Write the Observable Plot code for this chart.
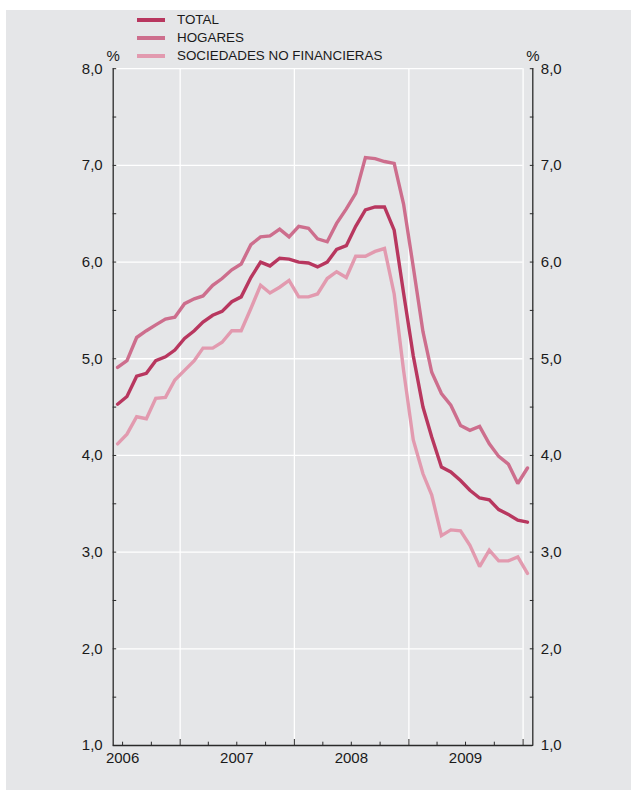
<!DOCTYPE html>
<html>
<head>
<meta charset="utf-8">
<script src="https://cdn.jsdelivr.net/npm/d3@7"></script>
<script src="https://cdn.jsdelivr.net/npm/@observablehq/plot@0.6"></script>
<style>
  html, body { margin: 0; padding: 0; background: #ffffff; }
  body { width: 631px; height: 796px; position: relative; overflow: hidden; font-family: "Liberation Sans", Arial, Helvetica, sans-serif; }
  #bg { position: absolute; left: 6px; top: 10px; width: 625px; height: 780px; background: #e5e6e8; }
  #chart { position: absolute; left: 0; top: 0; }
  .row { position: absolute; left: 137px; height: 18px; display: flex; align-items: center; font-size: 13.4px; color: #1a1a1a; line-height: 18px; white-space: nowrap; }
  .sw { width: 28px; height: 4px; margin-right: 12px; }
</style>
</head>
<body>
<div id="bg"></div>
<div id="chart"></div>
<div id="legend"></div>
<script>
// ---- Data ----
const seriesNames = ["TOTAL", "HOGARES", "SOCIEDADES NO FINANCIERAS"];
const seriesColors = ["#b8375f", "#cd6e8d", "#e29aaf"];
const startMonth = new Date(Date.UTC(2006, 5, 1));   // June 2006
const endMonth = new Date(Date.UTC(2010, 1, 1));     // February 2010 (axis end)
const months = d3.utcMonth.range(startMonth, endMonth); // Jun 2006 .. Jan 2010 (44 months)

const total = [4.53, 4.61, 4.82, 4.85, 4.98, 5.02, 5.09, 5.21, 5.29, 5.38, 5.45, 5.49,
               5.59, 5.64, 5.84, 6.00, 5.96, 6.04, 6.03, 6.00, 5.99, 5.95, 6.00, 6.13,
               6.17, 6.37, 6.54, 6.57, 6.57, 6.33, 5.68, 5.03, 4.50, 4.19, 3.88, 3.83,
               3.74, 3.64, 3.56, 3.54, 3.44, 3.39, 3.33, 3.31];
const hogares = [4.91, 4.98, 5.22, 5.29, 5.35, 5.41, 5.43, 5.57, 5.62, 5.65, 5.76, 5.83,
                 5.92, 5.98, 6.18, 6.26, 6.27, 6.34, 6.26, 6.37, 6.35, 6.24, 6.21, 6.40,
                 6.55, 6.71, 7.08, 7.07, 7.04, 7.02, 6.60, 5.95, 5.28, 4.86, 4.64, 4.52,
                 4.31, 4.26, 4.30, 4.12, 3.99, 3.91, 3.71, 3.87];
const sociedades = [4.12, 4.22, 4.40, 4.38, 4.59, 4.60, 4.78, 4.88, 4.98, 5.11, 5.11, 5.17,
                    5.29, 5.29, 5.52, 5.76, 5.68, 5.74, 5.81, 5.64, 5.64, 5.67, 5.83, 5.90,
                    5.84, 6.06, 6.06, 6.11, 6.14, 5.67, 4.88, 4.16, 3.81, 3.59, 3.17, 3.23,
                    3.22, 3.07, 2.85, 3.02, 2.91, 2.91, 2.95, 2.78];

const yTickLabels = [1, 2, 3, 4, 5, 6, 7, 8];
const yMinorTicks = [1, 1.5, 2, 2.5, 3, 3.5, 4, 4.5, 5, 5.5, 6, 6.5, 7, 7.5, 8];
const yearLabels = [2006, 2007, 2008, 2009];
const yearBoundaries = [2007, 2008, 2009, 2010];

// ---- Build table ----
const seriesValues = [total, hogares, sociedades];
const rows = [];
[2, 1, 0].forEach(s => {
  seriesValues[s].forEach((v, i) => {
    rows.push({series: seriesNames[s], date: d3.utcDay.offset(months[i], 14), value: v});
  });
});

const boundaryDates = yearBoundaries.map(y => new Date(Date.UTC(y, 0, 1)));
const labelDates = yearLabels.map(y => new Date(Date.UTC(y, 6, 1)));
const quarterDates = d3.utcMonth.every(3).range(new Date(Date.UTC(2006, 6, 1)), new Date(Date.UTC(2010, 0, 2)))
  .filter(d => d.getUTCMonth() !== 0);
const fmt = d => d.toFixed(1).replace(".", ",");
const axisColor = "#2a2a2a";
const textColor = "#1a1a1a";

const chart = Plot.plot({
  width: 631,
  height: 796,
  marginLeft: 112.7,
  marginRight: 98.7,
  marginTop: 68.2,
  marginBottom: 51,
  style: {background: "transparent", fontFamily: "'Liberation Sans', Arial, Helvetica, sans-serif", fontSize: "15px", color: textColor},
  x: {type: "utc", domain: [startMonth, endMonth]},
  y: {domain: [1, 8]},
  color: {domain: seriesNames, range: seriesColors},
  marks: [
    // white grid
    Plot.ruleY(yTickLabels.filter(v => v > 1), {y: d => d, x1: startMonth, x2: boundaryDates[3], stroke: "#ffffff", strokeWidth: 1.3}),
    Plot.ruleX(boundaryDates, {x: d => d, y1: 1, y2: 8, stroke: "#ffffff", strokeWidth: 1.3}),
    // lines
    Plot.line(rows, {x: "date", y: "value", z: "series", stroke: "series", strokeWidth: 3.4, strokeLinejoin: "miter", strokeMiterlimit: 2}),
    // axis frame
    Plot.ruleX([startMonth, endMonth], {x: d => d, y1: 1, y2: 8, stroke: axisColor, strokeWidth: 1.3}),
    Plot.ruleY([1], {y: d => d, x1: startMonth, x2: endMonth, stroke: axisColor, strokeWidth: 1.3}),
    // y ticks (inward)
    Plot.axisY(yMinorTicks, {anchor: "left", tickSize: -3.5, tickFormat: () => "", label: null, stroke: axisColor}),
    Plot.axisY(yMinorTicks, {anchor: "right", tickSize: -3.5, tickFormat: () => "", label: null, stroke: axisColor}),
    Plot.axisY(yTickLabels, {anchor: "left", tickSize: 0, tickPadding: 10.5, tickFormat: fmt, label: null, fill: textColor}),
    Plot.axisY(yTickLabels, {anchor: "right", tickSize: 0, tickPadding: 8, tickFormat: fmt, label: null, fill: textColor}),
    // x ticks (inward)
    Plot.axisX(quarterDates, {anchor: "bottom", tickSize: -3.3, tickFormat: () => "", label: null, stroke: axisColor}),
    Plot.axisX(boundaryDates, {anchor: "bottom", tickSize: -6, tickFormat: () => "", label: null, stroke: axisColor}),
    Plot.axisX(labelDates, {anchor: "bottom", tickSize: 0, tickPadding: 7, tickFormat: d3.utcFormat("%Y"), label: null, fill: textColor}),
    // % units
    Plot.text(["%", "%"], {x: [startMonth, endMonth], y: [8, 8], text: d => d, dy: -12.5, fill: textColor, fontSize: 15})
  ]
});
document.getElementById("chart").appendChild(chart);

// ---- Legend ----
const legend = document.getElementById("legend");
const rowTops = [11, 29, 47];
seriesNames.forEach((name, i) => {
  const r = document.createElement("div");
  r.className = "row";
  r.style.top = rowTops[i] + "px";
  const sw = document.createElement("div");
  sw.className = "sw";
  sw.style.background = seriesColors[i];
  const t = document.createElement("span");
  t.textContent = name;
  r.appendChild(sw);
  r.appendChild(t);
  legend.appendChild(r);
});
</script>
</body>
</html>
